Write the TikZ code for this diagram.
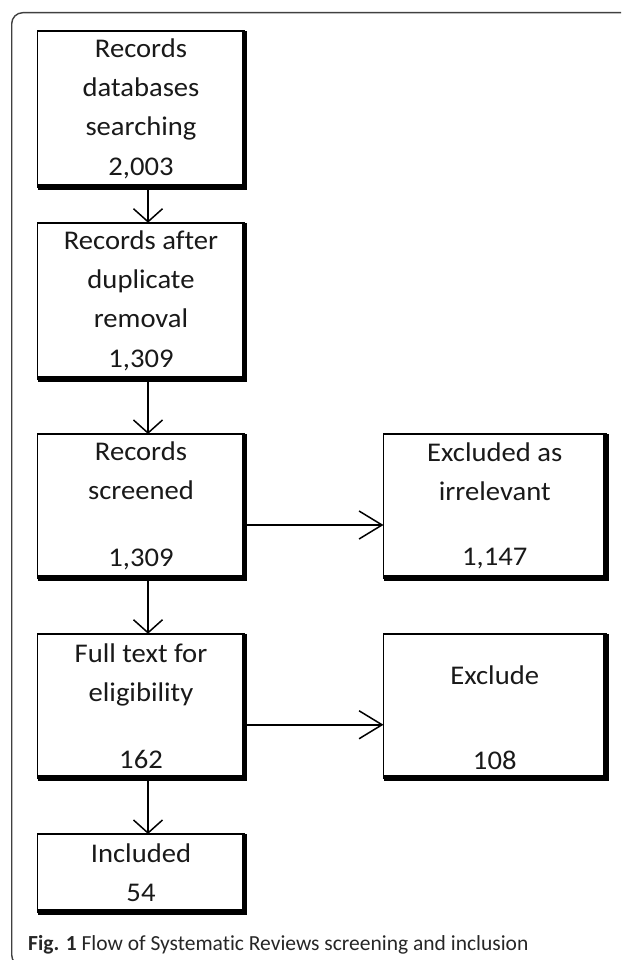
\documentclass[tikz,border=0pt]{standalone}
\usepackage{fontspec}
\newfontfamily\boxfont{Carlito}[FakeStretch=1.06, Ligatures=NoCommon]
\newfontfamily\capfont{Carlito}[Ligatures=NoCommon]
\usetikzlibrary{arrows.meta,positioning}

\tikzset{
    box/.style={draw, line width=1.6pt, minimum width=207pt, inner sep=0pt, outer sep=0pt,
        align=center, text=black!90, font=\boxfont\fontsize{27}{39}\selectfont,
        execute at begin node={\rule{0pt}{26pt}}},
    sidebox/.style={box, minimum width=222.5pt},
    shadowline/.style={line width=5.5pt},
    down/.style={line width=1.5pt, -{Straight Barb[length=13pt,width=29pt]}},
    across/.style={line width=1.5pt, -{Straight Barb[length=23pt,width=28pt]}},
}

\begin{document}
\begin{tikzpicture}[x=1pt,y=-1pt]
    \useasboundingbox (0,0) rectangle (621,960);
    % frame
    \draw[black!75, line width=1.4pt, rounded corners=11pt] (621,12.7) -- (11.7,12.7) -- (11.7,966) -- (40,966);
    % boxes
    \node[box, minimum height=156pt] (search) at (141,109) {Records\\databases\\searching\\[0.5pt]2,003};
    \node[box, minimum height=156pt] (dedup) at (141,300.75) {Records after\\duplicate\\removal\\[0.5pt]1,309};
    \node[box, minimum height=144pt] (screen) at (141,506) {Records\\screened\\[28pt]1,309};
    \node[box, minimum height=144pt] (full) at (141,705.75) {Full text for\\eligibility\\[28pt]162};
    \node[box, minimum height=78pt] (incl) at (141,873) {Included\\54};
    \node[sidebox, minimum height=144pt] (irrel) at (494.75,506) {Excluded as\\irrelevant\\[26pt]1,147};
    \node[sidebox, minimum height=144pt] (excl) at (494.75,705.75) {\rule{0pt}{43pt}Exclude\\[46pt]108};
    % thick right and bottom edges
    \foreach \n in {search,dedup,screen,full,incl,irrel,excl}
        \draw[shadowline] (\n.north east) -- (\n.south east) -- (\n.south west);
    % arrows
    \foreach \a/\b in {search/dedup,dedup/screen,screen/full,full/incl}
        \draw[down] ([xshift=7pt]\a.south) -- ([xshift=7pt]\b.north);
    \foreach \a/\b in {screen/irrel,full/excl}
        \draw[across] ([yshift=-19pt]\a.east) -- ([yshift=-19pt]\b.west);
    % caption
    \node[anchor=base west, inner sep=0pt, text=black!85, font=\capfont\fontsize{21.5}{26}\selectfont] (caption) at (28,950)
        {\textbf{Fig. 1} Flow of Systematic Reviews screening and inclusion};
\end{tikzpicture}
\end{document}
